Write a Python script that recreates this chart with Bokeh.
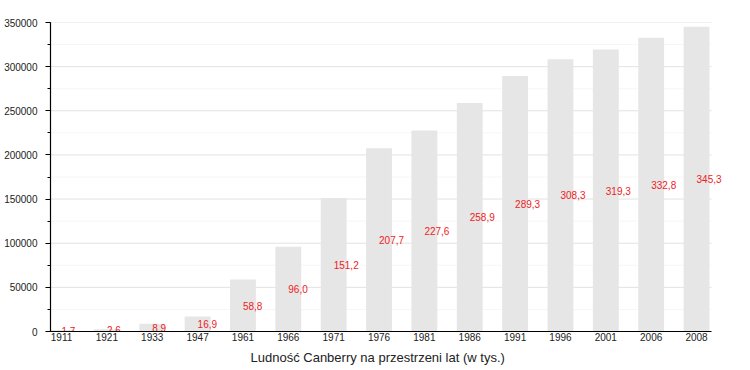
from bokeh.plotting import figure
from bokeh.models import ColumnDataSource, FixedTicker, SingleIntervalTicker, BasicTickFormatter, Range1d, Title
from bokeh.core.properties import value
from bokeh.embed import file_html
from bokeh.resources import INLINE

years = ["1911", "1921", "1933", "1947", "1961", "1966", "1971", "1976",
         "1981", "1986", "1991", "1996", "2001", "2006", "2008"]
population_thousands = [1.7, 2.6, 8.9, 16.9, 58.8, 96.0, 151.2, 207.7,
                        227.6, 258.9, 289.3, 308.3, 319.3, 332.8, 345.3]
value_labels = ["1,7", "2,6", "8,9", "16,9", "58,8", "96,0", "151,2", "207,7",
                "227,6", "258,9", "289,3", "308,3", "319,3", "332,8", "345,3"]
y_ticks = [0, 50000, 100000, 150000, 200000, 250000, 300000, 350000]
y_minor = [25000, 75000, 125000, 175000, 225000, 275000, 325000]
x_title = "Ludność Canberry na przestrzeni lat (w tys.)"

idx = list(range(len(years)))
pop = [v * 1000 for v in population_thousands]
half = [v / 2 for v in pop]

X_START = -0.243
X_AXIS_END = 14.33
X_END = 14.749

src = ColumnDataSource(dict(x=idx, top=pop, half=half, lab=value_labels))

FONT = "Liberation Sans"

p = figure(width=750, height=370, output_backend="svg", toolbar_location=None,
           x_range=Range1d(X_START, X_END), y_range=Range1d(0, 350000),
           min_border_left=50, min_border_right=20, min_border_top=22, min_border_bottom=39)
p.outline_line_color = None
p.background_fill_color = "white"
p.border_fill_color = "white"

# grid lines (limited to the axis extent)
p.segment(x0=[X_START] * len(y_minor), x1=[X_AXIS_END] * len(y_minor),
          y0=y_minor, y1=y_minor, line_color="#f6f6f6", line_width=1)
p.segment(x0=[X_START] * len(y_ticks), x1=[X_AXIS_END] * len(y_ticks),
          y0=y_ticks, y1=y_ticks, line_color="#e2e2e2", line_width=1)

p.vbar(x="x", top="top", bottom=0, width=0.57, source=src,
       fill_color="#e6e6e6", line_color=None)

p.text(x="x", y="half", text="lab", source=src, text_color="#ee1c25",
       text_font=value(FONT), text_font_size="10px",
       text_align="left", text_baseline="alphabetic")

# x axis
p.xaxis.ticker = FixedTicker(ticks=idx)
p.xaxis.bounds = (X_START, X_AXIS_END)
p.xaxis.major_label_overrides = {i: y for i, y in enumerate(years)}
p.xaxis.major_tick_out = 0
p.xaxis.major_tick_in = 0
p.xaxis.major_tick_line_color = None
p.xaxis.minor_tick_line_color = None
p.xaxis.axis_line_color = "black"
p.xaxis.axis_line_width = 1.2
p.xaxis.major_label_text_font = FONT
p.xaxis.major_label_text_font_size = "10px"
p.xaxis.major_label_text_color = "#222222"
p.xaxis.major_label_standoff = 1

p.add_layout(Title(text=x_title, align="left", offset=200, text_font=FONT,
                   text_font_size="13px", text_font_style="normal",
                   text_color="#222222", standoff=9), "below")

# y axis
p.yaxis.ticker = SingleIntervalTicker(interval=50000, num_minor_ticks=2)
p.yaxis.formatter = BasicTickFormatter(use_scientific=False)
p.yaxis.axis_line_color = "black"
p.yaxis.axis_line_width = 1.2
p.yaxis.major_tick_out = 5
p.yaxis.major_tick_in = 0
p.yaxis.minor_tick_out = 3
p.yaxis.minor_tick_in = 0
p.yaxis.major_tick_line_color = "black"
p.yaxis.minor_tick_line_color = "black"
p.yaxis.major_label_text_font = FONT
p.yaxis.major_label_text_font_size = "10px"
p.yaxis.major_label_text_color = "#222222"
p.yaxis.major_label_standoff = 8

p.xgrid.grid_line_color = None
p.ygrid.grid_line_color = None

open("out.html", "w").write(file_html(p, INLINE))
